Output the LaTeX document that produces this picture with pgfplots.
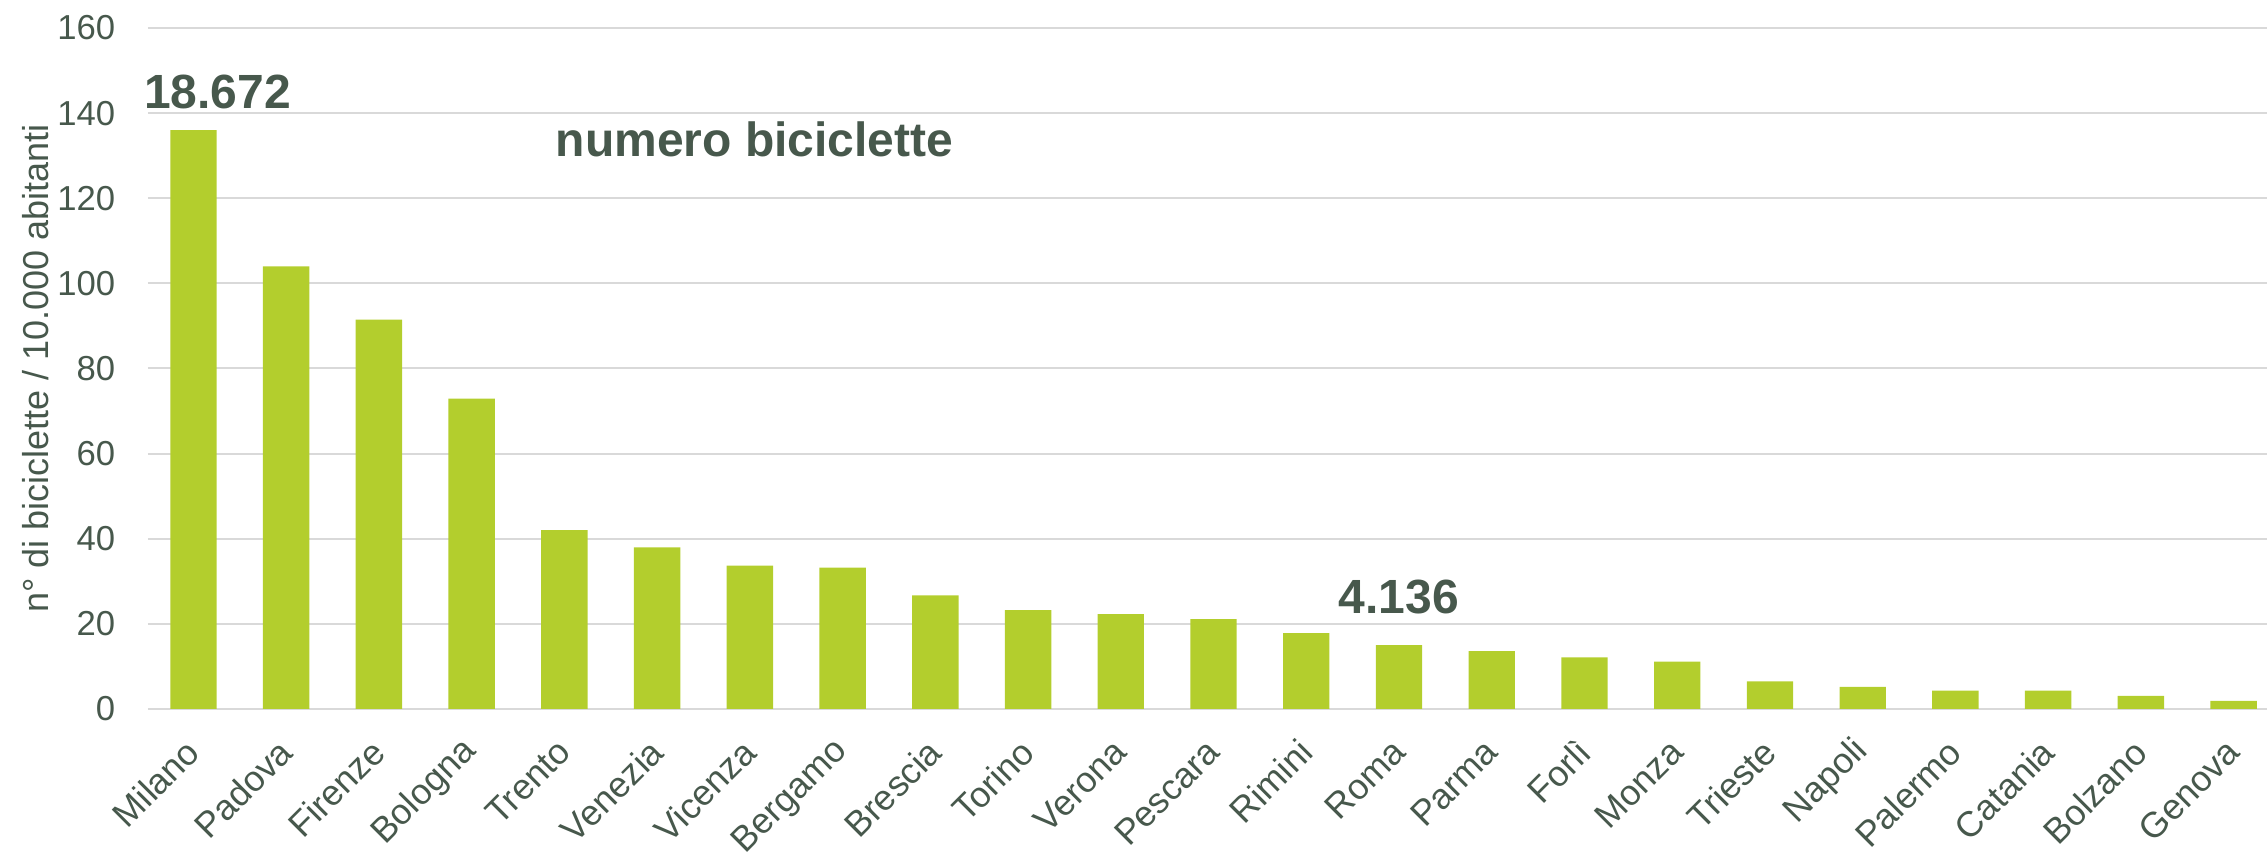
\documentclass[border=0pt]{standalone}
\usepackage{fontspec}
\setmainfont{Liberation Sans}
\usepackage{pgfplots}
\pgfplotsset{compat=1.18}
\definecolor{barc}{RGB}{179,206,45}
\definecolor{txtc}{RGB}{71,88,76}
\definecolor{gridc}{RGB}{217,217,217}

\begin{document}
\begin{tikzpicture}
\begin{axis}[
  scale only axis, width=635.7pt, height=204.3pt,
  ybar, bar width=0.5,
  xmin=-0.49, xmax=22.36, ymin=0, ymax=160,
  ytick={0,20,...,160},
  xtick=data,
  xticklabels={Milano,Padova,Firenze,Bologna,Trento,Venezia,Vicenza,Bergamo,Brescia,Torino,Verona,Pescara,Rimini,Roma,Parma,Forlì,Monza,Trieste,Napoli,Palermo,Catania,Bolzano,Genova},
  axis line style={draw=none},
  major tick length=0pt,
  ymajorgrids, grid style={gridc, line width=0.6pt},
  ticklabel style={text=txtc},
  yticklabel style={font=\fontsize{10.4}{12}\selectfont},
  xticklabel style={font=\fontsize{10.7}{12.8}\selectfont, rotate=45, anchor=east, inner sep=0pt},
  xticklabel shift=11pt,
  yticklabel shift=6.3pt,
  /pgf/number format/assume math mode=true,
  ylabel={n° di biciclette / 10.000 abitanti},
  ylabel style={at={(axis description cs:-0.0529,0.5)}, anchor=center, font=\fontsize{10.8}{13}\selectfont, text=txtc},
  clip=false,
]
\addplot[fill=barc, draw=none] coordinates {
  (0,136) (1,104) (2,91.5) (3,72.9) (4,42) (5,38) (6,33.7) (7,33.2)
  (8,26.7) (9,23.2) (10,22.3) (11,21.1) (12,17.8) (13,15.0) (14,13.6)
  (15,12.1) (16,11.1) (17,6.5) (18,5.2) (19,4.3) (20,4.3) (21,3.1) (22,1.9)
};
\node[font=\bfseries\fontsize{14.4}{17}\selectfont, text=txtc] at (axis cs:0.26,144.9) {18.672};
\node[font=\bfseries\fontsize{14.4}{17}\selectfont, text=txtc] at (axis cs:6.05,133.8) {numero biciclette};
\node[font=\bfseries\fontsize{14.4}{17}\selectfont, text=txtc] at (axis cs:13.0,26.3) {4.136};
\end{axis}
\pgfresetboundingbox
\path[use as bounding box] ([shift={(-44.4pt,-43.5pt)}]current axis.south west) rectangle ([shift={(0pt,8.4pt)}]current axis.north east);
\end{tikzpicture}
\end{document}
